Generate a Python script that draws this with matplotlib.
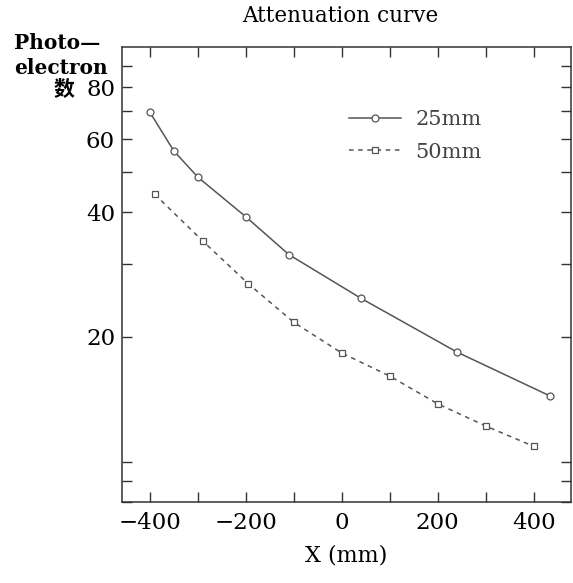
import matplotlib.pyplot as plt
import numpy as np
from matplotlib.ticker import FixedLocator, NullFormatter

# data
x_25 = [-400, -350, -300, -200, -110, 40, 240, 435]
y_25 = [69.7, 56.2, 48.6, 39.0, 31.6, 24.8, 18.4, 14.4]
x_50 = [-390, -290, -195, -100, 0, 100, 200, 300, 400]
y_50 = [44.2, 34.1, 26.9, 21.7, 18.3, 16.1, 13.8, 12.2, 10.9]

x_ticks = [-400, -200, 0, 200, 400]
y_ticks = [20, 40, 60, 80]
y_minor = [8, 9, 10, 30, 50, 70, 90]

plt.rcParams['font.family'] = ['DejaVu Serif', 'Noto Sans CJK SC']

fig = plt.figure(figsize=(5.73, 5.83), dpi=100)
ax = fig.add_axes([0.213, 0.139, 0.7835, 0.780])

ink = '#555555'
ax.plot(x_25, y_25, '-', color=ink, lw=1.1, marker='o', ms=5,
        mfc='white', mec=ink, mew=0.9, label='25mm')
ax.plot(x_50, y_50, '--', color=ink, lw=1.1, marker='s', ms=5,
        mfc='white', mec=ink, mew=0.9, dashes=(3, 3), label='50mm')

ax.set_yscale('log')
ax.set_xlim(-458, 478)
ax.set_ylim(8, 100)

ax.set_xticks(x_ticks)
ax.xaxis.set_minor_locator(FixedLocator([-300, -100, 100, 300]))
ax.yaxis.set_major_locator(FixedLocator(y_ticks))
ax.yaxis.set_minor_locator(FixedLocator(y_minor))
ax.yaxis.set_minor_formatter(NullFormatter())
ax.set_yticklabels([str(v) for v in y_ticks])
ax.set_xticklabels(['\u2212400', '\u2212200', '0', '200', '400'])

ax.tick_params(which='both', direction='in', top=True, right=True,
               length=7, width=1, labelsize=16.5, color='#333333')
ax.tick_params(axis='x', pad=7)
ax.tick_params(axis='y', pad=5)
for s in ax.spines.values():
    s.set_linewidth(1.1)
    s.set_color('#333333')

ax.legend(loc='upper left', bbox_to_anchor=(0.505, 0.862), frameon=False,
          fontsize=15, handlelength=2.5, numpoints=1, labelcolor='#444444',
          handletextpad=0.7, labelspacing=0.65, borderpad=0, borderaxespad=0)

ax.set_xlabel('X (mm)', fontsize=16, labelpad=8)
fig.text(0.593, 0.972, 'Attenuation curve', ha='center', va='center', fontsize=15.5)
fig.text(0.025, 0.927, 'Photo\u2014', ha='left', va='center', fontsize=14.5, fontweight='bold')
fig.text(0.025, 0.884, 'electron', ha='left', va='center', fontsize=14.5, fontweight='bold')
fig.text(0.093, 0.848, '数', ha='left', va='center', fontsize=15,
         family=['Noto Sans CJK SC', 'DejaVu Sans'], fontweight='bold')

fig.savefig('out.png', dpi=100)
